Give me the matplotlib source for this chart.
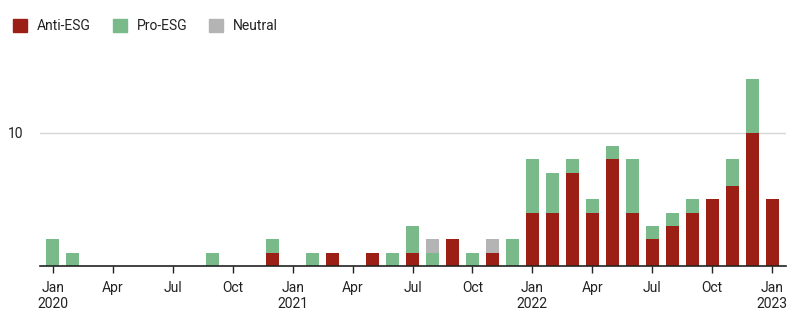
import matplotlib
matplotlib.use("Agg")
import matplotlib.pyplot as plt
from matplotlib.patches import Patch

plt.rcParams['font.family'] = ['Roboto', 'DejaVu Sans']

# monthly counts, Jan 2020 .. Jan 2023
months = [f"{y}-{m:02d}" for y in (2020, 2021, 2022) for m in range(1, 13)] + ["2023-01"]
anti_esg = [0, 0, 0, 0, 0, 0, 0, 0, 0, 0, 0, 1,
            0, 0, 1, 0, 1, 0, 1, 0, 2, 0, 1, 0,
            4, 4, 7, 4, 8, 4, 2, 3, 4, 5, 6, 10,
            5]
pro_esg = [2, 1, 0, 0, 0, 0, 0, 0, 1, 0, 0, 1,
           0, 1, 0, 0, 0, 1, 2, 1, 0, 1, 0, 2,
           4, 3, 1, 1, 1, 4, 1, 1, 1, 0, 2, 4,
           0]
neutral = [0, 0, 0, 0, 0, 0, 0, 0, 0, 0, 0, 0,
           0, 0, 0, 0, 0, 0, 0, 1, 0, 0, 1, 0,
           0, 0, 0, 0, 0, 0, 0, 0, 0, 0, 0, 0,
           0]

tick_idx = list(range(0, 37, 3))
tick_labels = ["Jan\n2020", "Apr", "Jul", "Oct",
               "Jan\n2021", "Apr", "Jul", "Oct",
               "Jan\n2022", "Apr", "Jul", "Oct",
               "Jan\n2023"]

c_anti = "#9c1f16"
c_pro = "#79b98a"
c_neu = "#b4b4b4"

fig = plt.figure(figsize=(8, 3.3), dpi=100)
ax = fig.add_axes([0.05, 0.194, 0.9325, 0.606])

x = list(range(len(months)))
w = 0.65
bottom2 = [a + p for a, p in zip(anti_esg, pro_esg)]
ax.bar(x, anti_esg, width=w, color=c_anti, zorder=3)
ax.bar(x, pro_esg, width=w, bottom=anti_esg, color=c_pro, zorder=3)
ax.bar(x, neutral, width=w, bottom=bottom2, color=c_neu, zorder=3)

ax.set_xlim(-0.65, 36.7)
ax.set_ylim(0, 15)
ax.set_yticks([10])
ax.set_yticklabels(["10"])
ax.yaxis.grid(True, color="#d6d6d6", linewidth=1, zorder=0)
ax.tick_params(axis="y", length=0, pad=12, labelsize=10, labelcolor="#222222")

ax.set_xticks(tick_idx)
ax.set_xticklabels(tick_labels)
ax.tick_params(axis="x", length=5, width=1, color="#222222", pad=6,
               labelsize=10, labelcolor="#222222")

for s in ("top", "right", "left"):
    ax.spines[s].set_visible(False)
ax.spines["bottom"].set_color("#222222")
ax.spines["bottom"].set_linewidth(1.2)
ax.spines["bottom"].set_zorder(4)

handles = [Patch(color=c_anti, label="Anti-ESG"),
           Patch(color=c_pro, label="Pro-ESG"),
           Patch(color=c_neu, label="Neutral")]
fig.legend(handles=handles, loc="upper left", bbox_to_anchor=(0.001, 0.98),
           ncol=3, frameon=False, fontsize=10, handlelength=1.0, handleheight=1.0,
           handletextpad=0.7, columnspacing=1.6, labelcolor="#222222")

fig.savefig("out.png", dpi=100, facecolor="white")
